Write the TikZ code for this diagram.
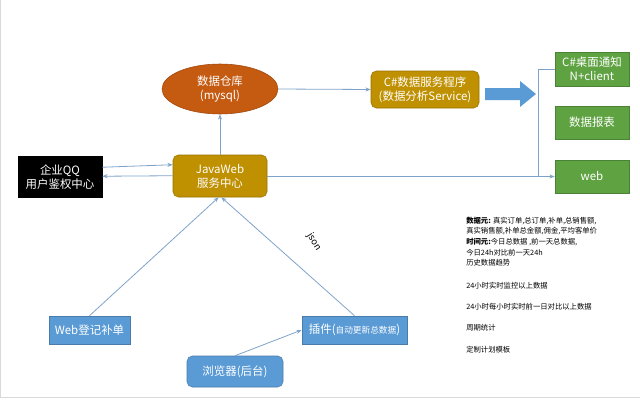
\documentclass[tikz,border=0pt]{standalone}
\usepackage{fontspec}
\setmainfont{Noto Sans CJK SC}
\usetikzlibrary{arrows.meta,shapes.geometric}
\definecolor{gold}{HTML}{BF9000}
\definecolor{rust}{HTML}{C55A11}
\definecolor{blu}{HTML}{5B9BD5}
\definecolor{grn}{HTML}{5FA242}
\definecolor{ln}{HTML}{7FA3C8}
\begin{document}
\begin{tikzpicture}[x=0.75pt,y=-0.75pt,
  box/.style={draw=#1!80!black,fill=#1,text=white,align=center,font=\fontsize{8.6}{10.5}\selectfont,inner sep=0pt},
  conn/.style={draw=ln,line width=0.6pt,-{Stealth[length=4pt,width=3pt]}},
  txt/.style={font=\fontsize{5.5}{7}\selectfont,anchor=west,inner sep=0pt}]
\useasboundingbox (0,0) rectangle (640,400);
\draw[gray!30,line width=1pt] (0.5,0)--(0.5,397.5)--(640,397.5);
\node[box=black,text width=84*0.75pt,minimum height=41*0.75pt] (qq) at (60,177) {企业QQ\\用户鉴权中心};
\node[box=gold,rounded corners=4pt,text width=94*0.75pt,minimum height=42*0.75pt] (jw) at (220,176) {JavaWeb\\服务中心};
\node[box=rust,ellipse,minimum width=116*0.75pt,minimum height=50*0.75pt] (db) at (220,89) {数据仓库\\(mysql)};
\node[box=gold,rounded corners=4pt,text width=108*0.75pt,minimum height=37*0.75pt] (cs) at (425,89.5) {C\#数据服务程序\\(数据分析Service)};
\node[box=grn,text width=74*0.75pt,minimum height=34*0.75pt] (g1) at (592,69) {C\#桌面通知\\N+client};
\node[box=grn,text width=74*0.75pt,minimum height=33*0.75pt] (g2) at (592,122.5) {数据报表};
\node[box=grn,text width=74*0.75pt,minimum height=33*0.75pt] (g3) at (592,176.5) {web};
\node[box=blu,text width=81*0.75pt,minimum height=28*0.75pt] (wb) at (89.5,330) {Web登记补单};
\node[box=blu,text width=105*0.75pt,minimum height=28*0.75pt] (cj) at (354.5,330) {插件({\fontsize{6.5}{8}\selectfont 自动更新总数据})};
\node[box=blu,rounded corners=4pt,text width=96*0.75pt,minimum height=31*0.75pt] (br) at (235,371.5) {浏览器(后台)};
\fill[blu] (485,88)--(520,88)--(520,81)--(536,94)--(520,107)--(520,100)--(485,100)--cycle;
\draw[conn] (jw.north) -- (db.south);
\draw[conn] (db.east) -- (cs.west);
\draw[conn] ([yshift=-11*0.75pt]qq.north east) -- ([yshift=-10*0.75pt]jw.north west);
\draw[conn] ([yshift=-21*0.75pt]jw.north west) -- ([yshift=-20*0.75pt]qq.north east);
\coordinate (b1) at (538,69);
\coordinate (b2) at (538,176.5);
\draw[conn] (jw.east |- g3.west) -- (g3.west);
\draw[ln,line width=0.6pt] (b2) -- (b1) -- (g1.west);
\draw[conn] (wb.north) -- ([xshift=-1]jw.south);
\draw[conn] (cj.north) -- ([xshift=1]jw.south);
\draw[conn] (br.north) -- (cj.west);
\node[font=\fontsize{7}{8}\selectfont,rotate=-58,inner sep=0pt] (js) at (314,242) {json};
\node[txt] (t1) at (466,221) {\textbf{数据元:} 真实订单,总订单,补单,总销售额,};
\node[txt] (t2) at (466,231.5) {真实销售额,补单总金额,佣金,平均客单价};
\node[txt] (t3) at (466,242) {\textbf{时间元:}今日总数据 ,前一天总数据,};
\node[txt] (t4) at (466,252.5) {今日24h对比前一天24h};
\node[txt] (t5) at (466,263) {历史数据趋势};
\node[txt] (t6) at (466,286) {24小时实时监控以上数据};
\node[txt] (t7) at (466,307) {24小时每小时实时前一日对比以上数据};
\node[txt] (t8) at (466,328) {周期统计};
\node[txt] (t9) at (466,350) {定制计划模板};
\end{tikzpicture}
\end{document}
